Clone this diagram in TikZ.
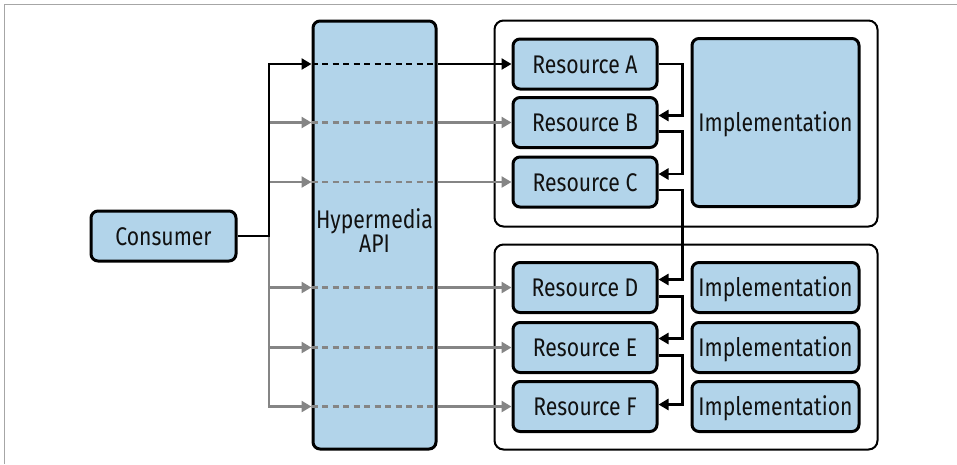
\documentclass[tikz,border=0pt]{standalone}
\usepackage{fontspec}
\setmainfont{Fira Sans}[FakeStretch=0.83]
\usetikzlibrary{arrows.meta}
\definecolor{boxblue}{HTML}{B2D4EA}
\definecolor{linegray}{HTML}{858585}
\definecolor{txt}{HTML}{111111}
\tikzset{
  box/.style={draw=black, line width=3pt, fill=boxblue, rounded corners=7pt,
    inner sep=0pt, text=txt, font=\fontsize{25.5}{21.6}\selectfont, align=center,
    text height=18pt, text depth=0pt},
  frame/.style={draw=black, line width=2pt, rounded corners=9pt, fill=white, inner sep=0pt},
  blk/.style={draw=black, line width=2.6pt},
  gry/.style={draw=linegray, line width=2.6pt},
  tip/.style={-{Triangle[length=10pt,width=11pt]}},
  dsh/.style={dash pattern=on 6pt off 4.5pt},
}
\begin{document}
\begin{tikzpicture}[x=1pt,y=-1pt]
\useasboundingbox (0,0) rectangle (957,464);
\draw[draw=gray!70, line width=1pt] (4,464) -- (4,4) -- (957,4);

% containers
\node[frame, minimum width=383pt, minimum height=206pt] (top) at (686,123.5) {};
\node[frame, minimum width=383pt, minimum height=205pt] (bot) at (686,347) {};

% main boxes
\node[box, minimum width=145pt, minimum height=50pt] (cons) at (163.5,236) {Consumer};
\node[box, minimum width=123pt, minimum height=428pt, text height=34pt] (api) at (374.5,235) {Hypermedia\\API};

\node[box, minimum width=144pt, minimum height=50pt] (resA) at (585,64) {Resource A};
\node[box, minimum width=144pt, minimum height=50pt] (resB) at (585,122.5) {Resource B};
\node[box, minimum width=144pt, minimum height=50pt] (resC) at (585,182) {Resource C};
\node[box, minimum width=144pt, minimum height=50pt] (resD) at (585,287.5) {Resource D};
\node[box, minimum width=144pt, minimum height=50pt] (resE) at (585,347.5) {Resource E};
\node[box, minimum width=144pt, minimum height=50pt] (resF) at (585,406.5) {Resource F};

\node[box, minimum width=167pt, minimum height=168pt] (impl) at (775.5,122.5) {Implementation};
\node[box, minimum width=167pt, minimum height=50pt] (implD) at (775.5,287.5) {Implementation};
\node[box, minimum width=167pt, minimum height=50pt] (implE) at (775.5,347.5) {Implementation};
\node[box, minimum width=167pt, minimum height=50pt] (implF) at (775.5,406.5) {Implementation};

\coordinate (j) at (269,236);

% gray connectors
\foreach \r in {resB,resC,resD,resE,resF}{
  \draw[gry,tip] (j) |- (api.west |- \r.west);
  \draw[gry,dsh] (api.west |- \r.west) -- (api.east |- \r.west);
  \draw[gry,tip] (api.east |- \r.west) -- (\r.west);
}
% black connector
\draw[blk,tip] (cons.east) -- (j) |- (api.west |- resA.west);
\draw[blk,dsh] (api.west |- resA.west) -- (api.east |- resA.west);
\draw[blk,tip] (api.east |- resA.west) -- (resA.west);

% resource chain
\draw[blk,tip] (resA.east) -- ++(24,0) |- ([yshift=7pt]resB.east);
\draw[blk,tip] ([yshift=-9pt]resB.east) -- ++(24,0) |- ([yshift=8pt]resC.east);
\draw[blk,tip] ([yshift=-8pt]resC.east) -- ++(24,0) |- ([yshift=8pt]resD.east);
\draw[blk,tip] ([yshift=-9pt]resD.east) -- ++(24,0) |- ([yshift=9pt]resE.east);
\draw[blk,tip] ([yshift=-8pt]resE.east) -- ++(24,0) |- ([yshift=2pt]resF.east);
\end{tikzpicture}
\end{document}
